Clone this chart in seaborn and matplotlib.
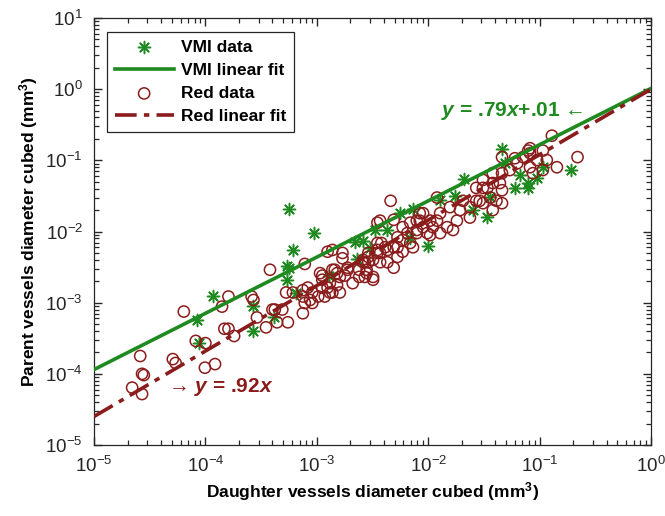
import numpy as np
import matplotlib
matplotlib.use("Agg")
import matplotlib.pyplot as plt
from matplotlib.ticker import FixedLocator, NullFormatter
import seaborn as sns

# ---- data (log-log axes) ----
vmi_x = [5.6e-4, 9.4e-4, 6.1e-4, 5.4e-4, 5.6e-4, 5.4e-4, 6.5e-4, 1.17e-4, 2.7e-4, 8.4e-5,
         4.1e-4, 2.7e-4, 8.8e-5, 2.2e-3, 2.6e-3, 3.0e-3, 2.3e-3, 1.3e-3, 4.3e-3, 5.6e-3,
         7.3e-3, 1.0e-2, 4.6e-2, 0.19, 7.9e-2, 7.9e-2, 3.4e-2, 2.1e-2, 3.3e-3, 6.9e-3,
         2.5e-2, 6.0e-2, 4.9e-2, 9.5e-2, 0.107, 1.28e-2, 1.74e-2, 6.7e-2, 3.6e-2]
vmi_y = [2.1e-2, 9.5e-3, 5.5e-3, 3.3e-3, 3.1e-3, 2.1e-3, 1.36e-3, 1.24e-3, 8.9e-4, 5.7e-4,
         6.3e-4, 4.0e-4, 2.7e-4, 7.1e-3, 7.3e-3, 5.8e-3, 4.1e-3, 2.4e-3, 1.05e-2, 1.8e-2,
         2.1e-2, 6.2e-3, 0.144, 7.3e-2, 4.8e-2, 4.1e-2, 1.6e-2, 5.4e-2, 1.05e-2, 8.1e-3,
         2.0e-2, 4.1e-2, 9.1e-2, 5.6e-2, 8.0e-2, 2.8e-2, 3.2e-2, 6.2e-2, 3.1e-2]

red_x = [6.4e-5, 2.6e-5, 2.7e-5, 2.8e-5, 2.2e-5, 2.7e-5, 5.1e-5, 5.4e-5, 9.9e-5, 1.22e-4,
         8.2e-5, 1.0e-4, 1.41e-4, 1.61e-4, 1.48e-4, 1.61e-4, 1.81e-4, 2.6e-4, 2.7e-4, 2.9e-4,
         3.5e-4, 4.2e-4, 4.4e-4, 5.5e-4, 5.3e-4, 3.8e-4, 7.8e-4, 1.25e-3, 1.70e-3, 1.70e-3,
         4.0e-4, 4.9e-4, 6.1e-4, 7.5e-4, 8.3e-4, 7.5e-4, 7.8e-4, 7.5e-4, 9.1e-4, 1.03e-3,
         1.12e-3, 1.12e-3, 1.07e-3, 1.38e-3, 1.52e-3, 1.61e-3, 1.79e-3, 1.89e-3, 1.52e-3, 1.61e-3,
         1.31e-3, 1.18e-3, 2.1e-3, 2.4e-3, 2.7e-3, 2.8e-3, 2.7e-3, 3.2e-3, 2.9e-3, 3.5e-3,
         3.8e-3, 4.3e-3, 4.9e-3, 5.9e-3, 6.9e-3, 7.3e-3, 5.9e-3, 6.9e-3, 7.9e-3, 8.4e-3,
         9.0e-3, 9.8e-3, 7.9e-3, 6.5e-3, 5.3e-3, 4.3e-3, 3.7e-3, 4.9e-3, 4.6e-3, 3.7e-3,
         4.9e-3, 1.38e-3, 1.45e-3, 1.38e-3, 3.2e-3, 3.2e-3, 2.9e-3, 2.6e-3, 3.7e-3, 4.1e-3,
         5.3e-3, 5.9e-3, 5.3e-3, 7.9e-3, 8.4e-3, 1.04e-2, 1.20e-2, 9.0e-3, 1.04e-2, 1.28e-2,
         1.48e-2, 1.67e-2, 1.81e-2, 1.93e-2, 2.37e-2, 2.7e-2, 3.1e-2, 3.6e-2, 4.1e-2, 3.4e-2,
         3.8e-2, 4.4e-2, 4.6e-2, 2.7e-2, 3.1e-2, 3.8e-2, 4.6e-2, 5.4e-2, 6.3e-2, 7.1e-2,
         8.2e-2, 9.5e-2, 8.2e-2, 8.7e-2, 0.107, 0.116, 8.2e-2, 4.6e-2, 6.0e-2, 0.129,
         0.219, 0.143, 4.6e-2, 3.8e-2, 2.9e-2, 2.05e-2, 1.57e-2, 1.28e-2, 1.20e-2, 1.10e-2,
         2.37e-2, 3.1e-2, 7.9e-2, 0.107, 1.25e-3, 9.1e-4, 8.7e-4, 1.12e-3, 1.31e-3, 1.89e-3,
         2.4e-3, 2.8e-3, 2.6e-3, 2.9e-3, 3.5e-3, 3.5e-3, 3.5e-3]
red_y = [7.5e-4, 1.78e-4, 1.0e-4, 9.6e-5, 6.4e-5, 5.2e-5, 1.61e-4, 1.42e-4, 1.22e-4, 1.37e-4,
         2.9e-4, 2.7e-4, 8.8e-4, 1.22e-3, 4.3e-4, 4.3e-4, 3.4e-4, 1.22e-3, 1.09e-3, 6.2e-4,
         4.5e-4, 8.0e-4, 5.3e-4, 5.3e-4, 1.39e-3, 2.9e-3, 3.5e-3, 5.2e-3, 5.0e-3, 4.2e-3,
         8.0e-4, 8.0e-4, 1.39e-3, 1.50e-3, 1.63e-3, 1.22e-3, 9.9e-4, 7.1e-4, 9.9e-4, 1.22e-3,
         1.63e-3, 2.4e-3, 2.6e-3, 2.9e-3, 2.6e-3, 2.3e-3, 2.4e-3, 2.9e-3, 1.77e-3, 1.39e-3,
         1.39e-3, 1.22e-3, 1.88e-3, 2.3e-3, 3.7e-3, 2.9e-3, 2.3e-3, 2.3e-3, 4.4e-3, 5.5e-3,
         6.9e-3, 5.5e-3, 6.0e-3, 7.6e-3, 6.9e-3, 6.0e-3, 1.15e-2, 1.33e-2, 1.42e-2, 1.81e-2,
         1.15e-2, 9.5e-3, 9.5e-3, 9.5e-3, 4.4e-3, 3.7e-3, 3.7e-3, 3.1e-3, 2.7e-2, 1.42e-2,
         1.46e-2, 5.5e-3, 2.9e-3, 1.39e-3, 2.1e-3, 4.0e-3, 5.0e-3, 3.7e-3, 5.0e-3, 6.0e-3,
         6.0e-3, 5.2e-3, 8.3e-3, 1.05e-2, 1.42e-2, 1.42e-2, 3.0e-2, 1.81e-2, 8.9e-3, 9.5e-3,
         1.15e-2, 1.05e-2, 1.42e-2, 2.0e-2, 2.2e-2, 2.7e-2, 2.5e-2, 3.0e-2, 2.7e-2, 4.1e-2,
         4.8e-2, 4.8e-2, 3.8e-2, 4.1e-2, 5.3e-2, 6.6e-2, 6.6e-2, 7.3e-2, 9.1e-2, 0.111,
         0.126, 0.101, 8.0e-2, 6.6e-2, 7.3e-2, 0.101, 0.148, 0.111, 0.107, 0.222,
         0.111, 8.0e-2, 2.5e-2, 2.0e-2, 2.7e-2, 2.7e-2, 2.2e-2, 1.81e-2, 1.42e-2, 1.15e-2,
         1.57e-2, 4.1e-2, 0.137, 0.137, 1.63e-3, 1.39e-3, 1.09e-3, 2.1e-3, 1.88e-3, 3.1e-3,
         2.9e-3, 2.6e-3, 4.0e-3, 3.7e-3, 5.0e-3, 6.9e-3, 1.33e-2]

# fits in log space: log10(y) = slope*log10(x) + intercept
vmi_slope, vmi_icpt = 0.79, 0.01
red_slope, red_icpt = 0.92, 0.0
fit_x = np.array([1e-5, 1e0])

green = "#1f8a1f"
dred = "#8b1c1c"

plt.rcParams["font.family"] = ["Liberation Sans", "DejaVu Sans"]
plt.rcParams["mathtext.fontset"] = "custom"
plt.rcParams["mathtext.rm"] = "Liberation Sans"
plt.rcParams["mathtext.it"] = "Liberation Sans:italic"
plt.rcParams["mathtext.bf"] = "Liberation Sans:bold"
plt.rcParams["mathtext.bfit"] = "Liberation Sans:italic:bold"
plt.rcParams["mathtext.default"] = "regular"

fig = plt.figure(figsize=(6.65, 5.16), dpi=100)
ax = fig.add_axes([94 / 665, 71 / 516, 557 / 665, 427 / 516])

sns.scatterplot(x=vmi_x, y=vmi_y, marker=(8, 2, 0), color=green, s=75,
                linewidth=1.1, ax=ax, label="VMI data", zorder=3)
sns.lineplot(x=fit_x, y=10 ** vmi_icpt * fit_x ** vmi_slope, color=green,
             lw=2.6, ax=ax, label="VMI linear fit", zorder=4)
sns.scatterplot(x=red_x, y=red_y, marker="o", fc="none", ec=dred, s=65,
                linewidth=1.1, ax=ax, label="Red data", zorder=3)
sns.lineplot(x=fit_x, y=10 ** red_icpt * fit_x ** red_slope, color=dred,
             lw=2.6, linestyle=(0, (6, 2, 1.5, 2)), ax=ax, label="Red linear fit", zorder=4)

ax.set_xscale("log")
ax.set_yscale("log")
ax.set_xlim(1e-5, 1e0)
ax.set_ylim(1e-5, 1e1)

# minor ticks at 2..9 x 10^k, as in the MATLAB original
minor_x = [m * 10.0 ** k for k in range(-5, 0) for m in range(2, 10)]
minor_y = [m * 10.0 ** k for k in range(-5, 1) for m in range(2, 10)]
ax.xaxis.set_minor_locator(FixedLocator(minor_x))
ax.yaxis.set_minor_locator(FixedLocator(minor_y))
ax.xaxis.set_minor_formatter(NullFormatter())
ax.yaxis.set_minor_formatter(NullFormatter())

for s in ax.spines.values():
    s.set_linewidth(0.9)
    s.set_color("#262626")
ax.tick_params(which="both", direction="in", top=True, right=True, colors="#262626",
               labelsize=13.5)
ax.tick_params(which="major", length=6, width=1.0, pad=8)
ax.tick_params(which="minor", length=3.5, width=0.9)

ax.set_xlabel(r"Daughter vessels diameter cubed (mm$^\mathbf{3}$)", fontsize=12.5,
              fontweight="bold", labelpad=3)
ax.set_ylabel(r"Parent vessels diameter cubed (mm$^\mathbf{3}$)", fontsize=12.5,
              fontweight="bold", labelpad=4)

handles, labels = ax.get_legend_handles_labels()
order = ["VMI data", "VMI linear fit", "Red data", "Red linear fit"]
hmap = dict(zip(labels, handles))
leg = ax.legend([hmap[k] for k in order], order, loc="upper left",
                bbox_to_anchor=(0.023, 0.967), borderaxespad=0, fancybox=False,
                edgecolor="#262626", framealpha=1, handlelength=3.4,
                handletextpad=0.4, borderpad=0.45,
                labelspacing=0.45, prop={"weight": "bold", "size": 12.5})
leg.get_frame().set_linewidth(0.9)

ax.text(1.3e-2, 0.5, r"$\mathbfit{y}$ = .79$\mathbfit{x}$+.01 ←", color=green,
        fontsize=15, fontweight="bold", ha="left", va="center")
ax.text(4.6e-5, 6.5e-5, r"→ $\mathbfit{y}$ = .92$\mathbfit{x}$", color=dred,
        fontsize=15, fontweight="bold", ha="left", va="center")

fig.savefig("out.png", dpi=100)
